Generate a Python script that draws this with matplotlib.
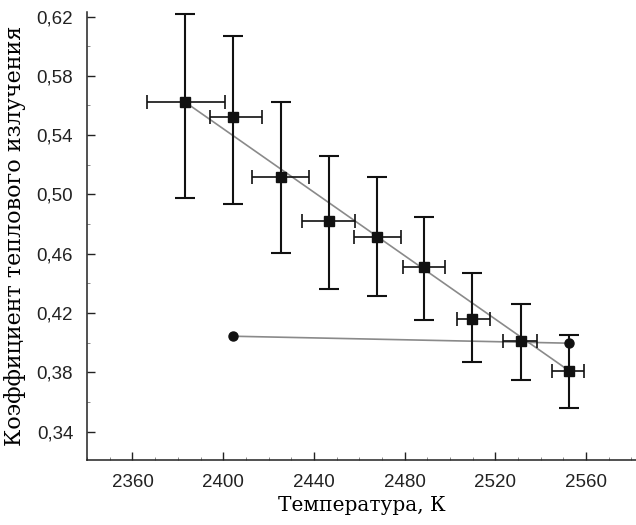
import numpy as np
import matplotlib.pyplot as plt
from matplotlib.ticker import MultipleLocator, FixedLocator, FuncFormatter

# Measured points (squares) with error bars
temp = [2383.2, 2404.4, 2425.5, 2446.7, 2467.7, 2488.6, 2509.9, 2531.1, 2552.6]
coef = [0.5623, 0.5525, 0.5118, 0.4818, 0.4712, 0.4512, 0.4159, 0.4013, 0.3810]
coef_hi = [0.6218, 0.6071, 0.5623, 0.5262, 0.5116, 0.4847, 0.4470, 0.4264, 0.4055]
coef_lo = [0.4977, 0.4937, 0.4605, 0.4360, 0.4315, 0.4156, 0.3871, 0.3748, 0.3558]
temp_lo = [2366.2, 2394.0, 2412.6, 2434.8, 2457.5, 2479.2, 2503.2, 2523.4, 2544.9]
temp_hi = [2400.7, 2417.0, 2437.8, 2458.0, 2478.2, 2498.0, 2517.8, 2538.5, 2559.2]

# Linear fit line through the squares
fit_x = [2383.2, 2552.6]
fit_y = [0.5623, 0.3810]

# Second series (circles)
circ_x = [2404.4, 2552.6]
circ_y = [0.4044, 0.3997]

x_ticks = [2360, 2400, 2440, 2480, 2520, 2560]
y_ticks = [0.34, 0.38, 0.42, 0.46, 0.50, 0.54, 0.58, 0.62]

temp = np.array(temp)
coef = np.array(coef)
yerr = [coef - np.array(coef_lo), np.array(coef_hi) - coef]
xerr = [temp - np.array(temp_lo), np.array(temp_hi) - temp]

fig = plt.figure(figsize=(6.36, 5.25), dpi=100)
ax = fig.add_axes([0.137, 0.124, 0.863, 0.853])

ax.plot(fit_x, fit_y, color='#8a8a8a', lw=1.2, zorder=2)
ax.plot(circ_x, circ_y, color='#8a8a8a', lw=1.2, zorder=2)
ax.plot(circ_x, circ_y, 'o', color='#111111', ms=6.5, zorder=4, lw=0)

ax.errorbar(temp, coef, yerr=yerr, fmt='none', ecolor='#111111',
            elinewidth=1.5, capsize=7.5, capthick=1.5, zorder=3)
ax.errorbar(temp, coef, xerr=xerr, fmt='none', ecolor='#111111',
            elinewidth=1.2, capsize=5, capthick=1.2, zorder=3)
ax.plot(temp, coef, 's', color='#111111', ms=6.5, zorder=5)

ax.set_xlim(2340, 2582)
ax.set_ylim(0.321, 0.623)

ax.xaxis.set_major_locator(FixedLocator(x_ticks))
ax.xaxis.set_minor_locator(MultipleLocator(10))
ax.yaxis.set_major_locator(FixedLocator(y_ticks))
ax.yaxis.set_minor_locator(MultipleLocator(0.02))
ax.yaxis.set_major_formatter(FuncFormatter(lambda v, p: f'{v:.2f}'.replace('.', ',')))

for s in ['top', 'right']:
    ax.spines[s].set_visible(False)
for s in ['left', 'bottom']:
    ax.spines[s].set_linewidth(1.1)
    ax.spines[s].set_color('#222222')

ax.tick_params(which='major', direction='in', length=6, width=1.0, color='#222222',
               labelsize=13.5, pad=10)
ax.tick_params(which='minor', direction='in', length=2.5, width=0.6, color='#777777')
for lab in ax.get_xticklabels() + ax.get_yticklabels():
    lab.set_family(['Liberation Sans', 'DejaVu Sans'])
    lab.set_color('#222222')

ax.set_xlabel('Температура, К', family='DejaVu Serif', fontsize=14.5, labelpad=4)
ax.set_ylabel('Коэффициент теплового излучения', family='DejaVu Serif', fontsize=16, labelpad=8)

fig.savefig('out.png', dpi=100)
